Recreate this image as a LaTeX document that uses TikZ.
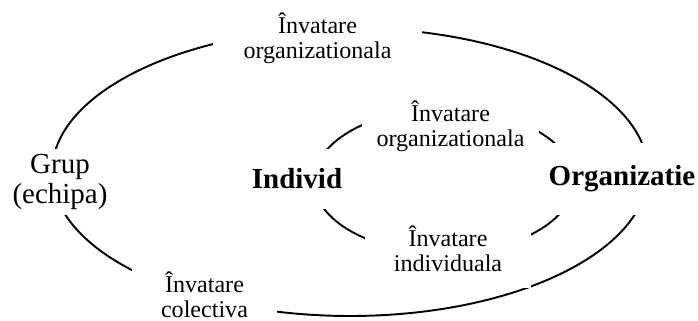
\documentclass[tikz,border=0pt]{standalone}
\usepackage{fontspec}
\setmainfont{Liberation Serif}
\usepackage{xcolor}
\newcommand\lblfont{\fontsize{13.7}{14.2}\selectfont}
\newcommand\namefont{\fontsize{16.5}{17.6}\selectfont}

\begin{document}
\begin{tikzpicture}[scale=1.0,
    ring/.style={line width=1.1pt},
    lbl/.style={fill=white,inner sep=0pt,align=center,font=\lblfont},
    actor/.style={fill=white,inner sep=0pt,align=center,font=\namefont}]

  \useasboundingbox (0,0) rectangle (13.96,6.4);

  \draw[ring] (7.00,2.96) ellipse [x radius=5.96, y radius=2.88];   % group / organisation loop
  \draw[ring] (8.88,2.78) ellipse [x radius=2.60, y radius=1.44];   % individual loop

  % labels sit on white boxes and cut the rings
  \node[lbl,minimum width=4.18cm,minimum height=1.00cm] (orgout) at (6.35,5.64) {Învatare\\organizationala};
  \node[lbl,minimum width=3.54cm,minimum height=1.00cm] (orgin)  at (9.01,3.88) {Învatare\\organizationala};
  \node[lbl,minimum width=3.32cm,minimum height=1.58cm] (indiv)  at (8.96,1.43) {Învatare\\individuala};
  \node[lbl,minimum width=2.90cm,minimum height=1.12cm] (colect) at (4.09,0.51) {Învatare\\colectiva};

  \node[actor,minimum width=2.0cm,minimum height=1.32cm] (grup) at (1.20,2.76) {Grup\\(echipa)};
  \node[actor,minimum width=2.2cm,minimum height=1.2cm,font=\namefont\bfseries]  (individ) at (5.94,2.82) {Individ};
  \node[actor,minimum width=3.2cm,minimum height=1.44cm,font=\namefont\bfseries] (organiz) at (12.44,2.82) {Organizatie};

\end{tikzpicture}
\end{document}
